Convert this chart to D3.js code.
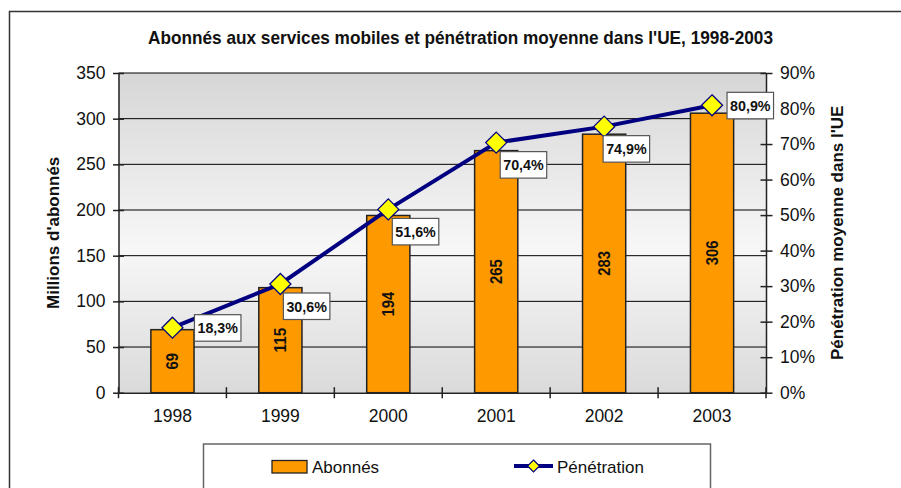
<!DOCTYPE html>
<html>
<head>
<meta charset="utf-8">
<script src="https://cdn.jsdelivr.net/npm/d3@7"></script>
<style>
  body { margin: 0; background: #fff; }
  svg { display: block; font-family: "Liberation Sans", Arial, sans-serif; }
</style>
</head>
<body>
<svg id="chart" width="901" height="488"></svg>
<script>
// data
var years = ['1998', '1999', '2000', '2001', '2002', '2003'];
var abonnes = [69, 115, 194, 265, 283, 306];           // millions
var penetration = [18.3, 30.6, 51.6, 70.4, 74.9, 80.9]; // %
var leftTicks = [0, 50, 100, 150, 200, 250, 300, 350];
var rightTicks = [0, 10, 20, 30, 40, 50, 60, 70, 80, 90];

// label box offsets (from point), roughly as placed in the original
var labelOffset = [[22, -13], [3, 9], [4, 9], [4, 9], [-1, 9], [15, -13]];

var svg = d3.select('#chart');
var pLeft = 118.5, pRight = 766, pTop = 73, pBottom = 392.7;

// outer frame
svg.append('rect')
  .attr('x', 9.5).attr('y', 11.5).attr('width', 920).attr('height', 500)
  .attr('fill', 'none').attr('stroke', '#333').attr('stroke-width', 1.5);

// gradient for plot area
var defs = svg.append('defs');
var grad = defs.append('linearGradient').attr('id', 'bg')
  .attr('x1', 0).attr('y1', 0).attr('x2', 0).attr('y2', 1);
grad.append('stop').attr('offset', '0%').attr('stop-color', '#d6d6d6');
grad.append('stop').attr('offset', '55%').attr('stop-color', '#f7f7f7');
grad.append('stop').attr('offset', '100%').attr('stop-color', '#dadada');

svg.append('rect')
  .attr('x', pLeft).attr('y', pTop)
  .attr('width', pRight - pLeft).attr('height', pBottom - pTop)
  .attr('fill', 'url(#bg)');

var x = d3.scaleBand().domain(years).range([pLeft, pRight]).paddingInner(0).paddingOuter(0);
var y = d3.scaleLinear().domain([0, 350]).range([pBottom, pTop]);
var y2 = d3.scaleLinear().domain([0, 90]).range([pBottom, pTop]);

// gridlines
svg.append('g').selectAll('line')
  .data(leftTicks.slice(1))
  .enter().append('line')
  .attr('x1', pLeft).attr('x2', pRight)
  .attr('y1', function(d){ return y(d); }).attr('y2', function(d){ return y(d); })
  .attr('stroke', '#000').attr('stroke-width', 1);

// bars
var bw = x.bandwidth() * 0.4;
svg.append('g').selectAll('rect')
  .data(abonnes)
  .enter().append('rect')
  .attr('x', function(d, i){ return x(years[i]) + x.bandwidth() / 2 - bw / 2; })
  .attr('y', function(d){ return y(d); })
  .attr('width', bw)
  .attr('height', function(d){ return pBottom - y(d); })
  .attr('fill', '#ff9900').attr('stroke', '#222').attr('stroke-width', 1.5);

// bar values (rotated), glyphs a bit tall and narrow like the original
svg.append('g').selectAll('text')
  .data(abonnes)
  .enter().append('text')
  .attr('transform', function(d, i){
    var cx = x(years[i]) + x.bandwidth() / 2;
    var cy = (y(d) + pBottom) / 2;
    return 'translate(' + cx + ',' + cy + ') rotate(-90)';
  })
  .attr('text-anchor', 'middle').attr('dy', '0.36em')
  .attr('font-size', '16px').attr('font-weight', 'bold').attr('fill', '#111')
  .attr('textLength', function(d){ return String(d).length * 8.2; })
  .attr('lengthAdjust', 'spacingAndGlyphs')
  .text(function(d){ return d; });

// axes
var axL = d3.axisLeft(y).tickValues(leftTicks).tickSize(0).tickPadding(13);
var gL = svg.append('g').attr('transform', 'translate(' + pLeft + ',0)').call(axL);
var axR = d3.axisRight(y2).tickValues(rightTicks).tickSize(0).tickPadding(14)
  .tickFormat(function(d){ return d + '%'; });
var gR = svg.append('g').attr('transform', 'translate(' + pRight + ',0)').call(axR);
[gL, gR].forEach(function(g){
  g.select('.domain').attr('stroke', '#222').attr('stroke-width', 1.5);
  g.selectAll('text').attr('font-size', '17.5px').attr('fill', '#111')
    .attr('font-family', '"Liberation Sans", Arial, sans-serif');
});
// crossing ticks
gL.selectAll('.tick').append('line').attr('x1', -5.5).attr('x2', 5.5).attr('stroke', '#222').attr('stroke-width', 1.5);
gR.selectAll('.tick').append('line').attr('x1', -5.5).attr('x2', 6.5).attr('stroke', '#222').attr('stroke-width', 1.5);

var axB = d3.axisBottom(x).tickSize(0).tickPadding(17);
var gB = svg.append('g').attr('transform', 'translate(0,' + pBottom + ')').call(axB);
gB.select('.domain').attr('stroke', '#222').attr('stroke-width', 1.5);
gB.selectAll('text').attr('font-size', '17.5px').attr('fill', '#111')
  .attr('font-family', '"Liberation Sans", Arial, sans-serif');
// category boundary ticks
var bounds = years.map(function(d){ return x(d); }).concat([pRight]);
gB.selectAll('.bt').data(bounds).enter().append('line')
  .attr('x1', function(d){ return d; }).attr('x2', function(d){ return d; })
  .attr('y1', -5.5).attr('y2', 5.5).attr('stroke', '#222').attr('stroke-width', 1.5);

// penetration line
var px = function(i){ return x(years[i]) + x.bandwidth() / 2; };
var line = d3.line()
  .x(function(d, i){ return px(i); })
  .y(function(d){ return y2(d); });
svg.append('path').datum(penetration)
  .attr('d', line).attr('fill', 'none')
  .attr('stroke', '#000080').attr('stroke-width', 4);

// diamonds
svg.append('g').selectAll('path')
  .data(penetration)
  .enter().append('path')
  .attr('transform', function(d, i){ return 'translate(' + px(i) + ',' + y2(d) + ')'; })
  .attr('d', 'M0,-10.5 L10.5,0 L0,10.5 L-10.5,0 Z')
  .attr('fill', '#ffff00').attr('stroke', '#000080').attr('stroke-width', 1.3);

// penetration labels
var lbl = svg.append('g').selectAll('g')
  .data(penetration)
  .enter().append('g')
  .attr('transform', function(d, i){
    return 'translate(' + (px(i) + labelOffset[i][0]) + ',' + (y2(d) + labelOffset[i][1]) + ')';
  });
lbl.append('rect')
  .attr('width', 46.5).attr('height', 26.5)
  .attr('fill', '#fff').attr('stroke', '#555').attr('stroke-width', 1.2);
lbl.append('text')
  .attr('x', 23.25).attr('y', 13.25).attr('dy', '0.36em')
  .attr('text-anchor', 'middle')
  .attr('font-size', '15px').attr('font-weight', 'bold').attr('fill', '#111')
  .attr('textLength', 40.5).attr('lengthAdjust', 'spacingAndGlyphs')
  .text(function(d){ return d.toFixed(1).replace('.', ',') + '%'; });

// title
svg.append('text')
  .attr('x', 460.5).attr('y', 44)
  .attr('text-anchor', 'middle')
  .attr('font-size', '19px').attr('font-weight', 'bold').attr('fill', '#111')
  .attr('textLength', 625).attr('lengthAdjust', 'spacingAndGlyphs')
  .text("Abonnés aux services mobiles et pénétration moyenne dans l'UE, 1998-2003");

// axis titles
svg.append('text')
  .attr('transform', 'translate(59,' + ((pTop + pBottom) / 2) + ') rotate(-90)')
  .attr('text-anchor', 'middle')
  .attr('font-size', '17px').attr('font-weight', 'bold').attr('fill', '#111')
  .text("Millions d'abonnés");
svg.append('text')
  .attr('transform', 'translate(843,' + ((pTop + pBottom) / 2) + ') rotate(-90)')
  .attr('text-anchor', 'middle')
  .attr('font-size', '17px').attr('font-weight', 'bold').attr('fill', '#111')
  .text("Pénétration moyenne dans l'UE");

// legend
var lg = svg.append('g');
lg.append('rect')
  .attr('x', 203.5).attr('y', 444).attr('width', 507).attr('height', 80)
  .attr('fill', '#fff').attr('stroke', '#666').attr('stroke-width', 1.5);
lg.append('rect')
  .attr('x', 272).attr('y', 460.5).attr('width', 35).attr('height', 12.5)
  .attr('fill', '#ff9900').attr('stroke', '#222').attr('stroke-width', 1.3);
lg.append('text')
  .attr('x', 312).attr('y', 467).attr('dy', '0.36em')
  .attr('font-size', '17px').attr('fill', '#111').text('Abonnés');
lg.append('line')
  .attr('x1', 514).attr('x2', 553).attr('y1', 466).attr('y2', 466)
  .attr('stroke', '#000080').attr('stroke-width', 4);
lg.append('path')
  .attr('transform', 'translate(533.5,466)')
  .attr('d', 'M0,-6 L6,0 L0,6 L-6,0 Z')
  .attr('fill', '#ffff00').attr('stroke', '#000080').attr('stroke-width', 1.2);
lg.append('text')
  .attr('x', 557).attr('y', 467).attr('dy', '0.36em')
  .attr('font-size', '17px').attr('fill', '#111').text('Pénétration');
</script>
</body>
</html>
